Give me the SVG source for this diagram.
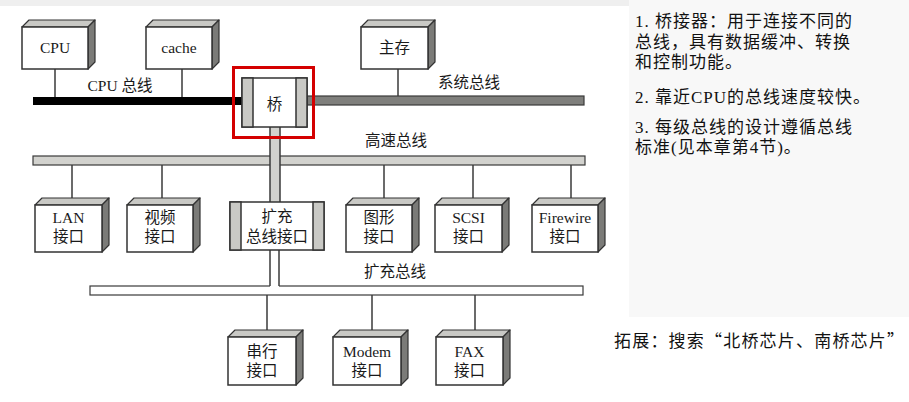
<svg xmlns="http://www.w3.org/2000/svg" width="909" height="402" viewBox="0 0 909 402">
<style>
.front{fill:#fff;stroke:#333;stroke-width:1.5}
.top{fill:#c9c9c5;stroke:#333;stroke-width:1.2;stroke-linejoin:round}
.side{fill:#7b7b78;stroke:#333;stroke-width:1.2;stroke-linejoin:round}
.band{fill:#c9c9c5;stroke:#333;stroke-width:1.5}
.wire{stroke:#3a3a3a;stroke-width:1.5;fill:none}
.lbl{font-family:"Liberation Serif","Noto Sans CJK SC",serif;font-size:15.5px;fill:#1a1a1a;text-anchor:middle}
.bus{font-family:"Liberation Serif","Noto Sans CJK SC",serif;font-size:15.5px;fill:#1a1a1a}
.note{font-family:"Liberation Serif","Noto Sans CJK SC",serif;font-size:17px;fill:#111;letter-spacing:1px}
.cjkq{font-family:"Noto Sans CJK SC",sans-serif}
</style>
<rect x="0" y="0" width="909" height="402" fill="#fff"/>
<rect x="0" y="0" width="909" height="6" fill="#efefef"/>
<rect x="629" y="0" width="280" height="317" fill="#f8f8f8"/>

<g id="buses">
<rect x="33" y="97" width="210" height="8" fill="#000"/>
<rect x="307" y="96" width="277" height="9" fill="#7f7f7c" stroke="#3a3a3a" stroke-width="1.2"/>
<rect x="33" y="156" width="552" height="9" fill="#d2d2ce" stroke="#3a3a3a" stroke-width="1.2"/>
<rect x="90" y="286" width="493" height="9" fill="#fff" stroke="#3a3a3a" stroke-width="1.2"/>
<text class="bus" x="120" y="91" text-anchor="middle">CPU 总线</text>
<text class="bus" x="438" y="88">系统总线</text>
<text class="bus" x="396" y="146" text-anchor="middle">高速总线</text>
<text class="bus" x="395" y="277" text-anchor="middle">扩充总线</text>
</g>

<g id="connectors">
<line class="wire" x1="55" y1="69" x2="55" y2="97"/>
<line class="wire" x1="182" y1="69" x2="182" y2="97"/>
<line class="wire" x1="398" y1="69" x2="398" y2="96"/>
<line class="wire" x1="72" y1="165" x2="72" y2="199"/>
<line class="wire" x1="162" y1="165" x2="162" y2="199"/>
<line class="wire" x1="384" y1="165" x2="384" y2="199"/>
<line class="wire" x1="473" y1="165" x2="473" y2="199"/>
<line class="wire" x1="571" y1="165" x2="571" y2="199"/>
<line class="wire" x1="267" y1="295" x2="267" y2="331"/>
<line class="wire" x1="372" y1="295" x2="372" y2="331"/>
<line class="wire" x1="475" y1="295" x2="475" y2="331"/>
<rect x="270" y="127" width="10" height="75" fill="#d2d2ce"/>
<line class="wire" x1="270" y1="127" x2="270" y2="202"/>
<line class="wire" x1="280" y1="127" x2="280" y2="202"/>
<rect x="270" y="250" width="9" height="37" fill="#fff"/>
<line class="wire" x1="270" y1="250" x2="270" y2="286"/>
<line class="wire" x1="279" y1="250" x2="279" y2="286"/>
</g>

<g id="cpu">
<polygon class="top" points="22,27 29,20 95,20 88,27"/>
<polygon class="side" points="88,27 95,20 95,62 88,69"/>
<rect class="front" x="22" y="27" width="66" height="42"/>
<text class="lbl" x="55" y="53">CPU</text>
</g>
<g id="cache">
<polygon class="top" points="146,27 153,20 219,20 212,27"/>
<polygon class="side" points="212,27 219,20 219,62 212,69"/>
<rect class="front" x="146" y="27" width="66" height="42"/>
<text class="lbl" x="179" y="53">cache</text>
</g>
<g id="memory">
<polygon class="top" points="361,27 368,20 435,20 428,27"/>
<polygon class="side" points="428,27 435,20 435,62 428,69"/>
<rect class="front" x="361" y="27" width="67" height="42"/>
<text class="lbl" x="394.5" y="53">主存</text>
</g>

<g id="bridge">
<rect class="front" x="242" y="78" width="65" height="49"/>
<rect class="band" x="242" y="78" width="11" height="49"/>
<rect class="band" x="296" y="78" width="11" height="49"/>
<text class="lbl" x="274.5" y="110">桥</text>
</g>
<rect id="highlight" x="233.5" y="67.5" width="80" height="70" fill="none" stroke="#d40000" stroke-width="3"/>

<g id="lan">
<polygon class="top" points="35,205 42,198 109,198 102,205"/>
<polygon class="side" points="102,205 109,198 109,245 102,252"/>
<rect class="front" x="35" y="205" width="67" height="47"/>
<text class="lbl" x="68.5" y="223">LAN</text>
<text class="lbl" x="68.5" y="242">接口</text>
</g>
<g id="video">
<polygon class="top" points="127,205 134,198 200,198 193,205"/>
<polygon class="side" points="193,205 200,198 200,245 193,252"/>
<rect class="front" x="127" y="205" width="66" height="47"/>
<text class="lbl" x="160" y="223">视频</text>
<text class="lbl" x="160" y="242">接口</text>
</g>
<g id="ext-interface">
<rect class="front" x="230" y="202" width="94" height="48"/>
<rect class="band" x="230" y="202" width="11" height="48"/>
<rect class="band" x="313" y="202" width="11" height="48"/>
<text class="lbl" x="277" y="222">扩充</text>
<text class="lbl" x="277" y="242">总线接口</text>
</g>
<g id="graphics">
<polygon class="top" points="346,205 353,198 419,198 412,205"/>
<polygon class="side" points="412,205 419,198 419,245 412,252"/>
<rect class="front" x="346" y="205" width="66" height="47"/>
<text class="lbl" x="379" y="223">图形</text>
<text class="lbl" x="379" y="242">接口</text>
</g>
<g id="scsi">
<polygon class="top" points="435,205 442,198 509,198 502,205"/>
<polygon class="side" points="502,205 509,198 509,245 502,252"/>
<rect class="front" x="435" y="205" width="67" height="47"/>
<text class="lbl" x="468.5" y="223">SCSI</text>
<text class="lbl" x="468.5" y="242">接口</text>
</g>
<g id="firewire">
<polygon class="top" points="532,205 539,198 605,198 598,205"/>
<polygon class="side" points="598,205 605,198 605,245 598,252"/>
<rect class="front" x="532" y="205" width="66" height="47"/>
<text class="lbl" x="565" y="223">Firewire</text>
<text class="lbl" x="565" y="242">接口</text>
</g>

<g id="serial">
<polygon class="top" points="228,337 235,330 303,330 296,337"/>
<polygon class="side" points="296,337 303,330 303,378 296,385"/>
<rect class="front" x="228" y="337" width="68" height="48"/>
<text class="lbl" x="262" y="357">串行</text>
<text class="lbl" x="262" y="376">接口</text>
</g>
<g id="modem">
<polygon class="top" points="333,337 340,330 408,330 401,337"/>
<polygon class="side" points="401,337 408,330 408,378 401,385"/>
<rect class="front" x="333" y="337" width="68" height="48"/>
<text class="lbl" x="367" y="357">Modem</text>
<text class="lbl" x="367" y="376">接口</text>
</g>
<g id="fax">
<polygon class="top" points="436,337 443,330 510,330 503,337"/>
<polygon class="side" points="503,337 510,330 510,378 503,385"/>
<rect class="front" x="436" y="337" width="67" height="48"/>
<text class="lbl" x="469.5" y="357">FAX</text>
<text class="lbl" x="469.5" y="376">接口</text>
</g>

<g id="notes">
<text class="note" x="635" y="27">1. 桥接器：用于连接不同的</text>
<text class="note" x="635" y="48">总线，具有数据缓冲、转换</text>
<text class="note" x="635" y="68">和控制功能。</text>
<text class="note" x="635" y="103">2. 靠近CPU的总线速度较快。</text>
<text class="note" x="635" y="133">3. 每级总线的设计遵循总线</text>
<text class="note" x="635" y="153">标准(见本章第4节)。</text>
<text class="note" x="614" y="347" style="letter-spacing:1.2px">拓展：搜索<tspan class="cjkq">“</tspan>北桥芯片、南桥芯片<tspan class="cjkq">”</tspan></text>
</g>
</svg>
